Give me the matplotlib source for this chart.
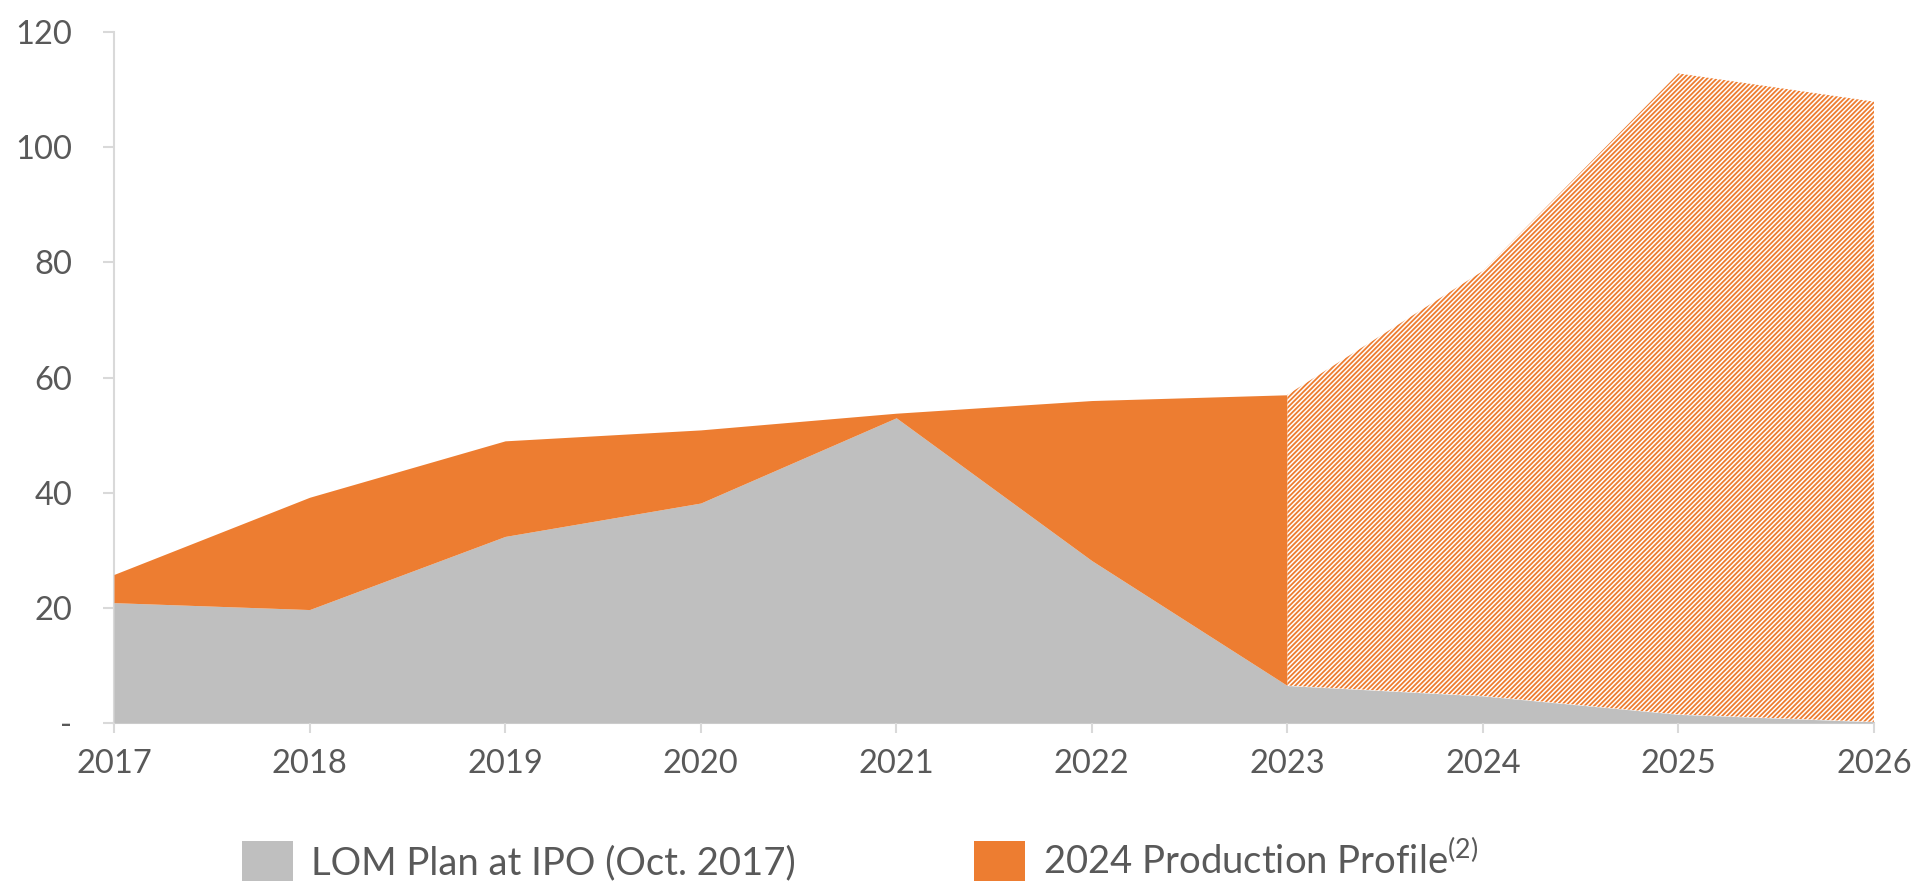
import matplotlib
matplotlib.use("Agg")
import matplotlib.pyplot as plt
from matplotlib.patches import Patch

plt.rcParams['font.family'] = ['Lato', 'DejaVu Sans']
plt.rcParams['mathtext.fontset'] = 'custom'
plt.rcParams['mathtext.rm'] = 'Lato'
plt.rcParams['hatch.linewidth'] = 1.3

years = [2017, 2018, 2019, 2020, 2021, 2022, 2023, 2024, 2025, 2026]
lom_plan = [20.9, 19.7, 32.4, 38.2, 53.0, 28.2, 6.5, 4.7, 1.5, 0.2]
profile_2024 = [25.8, 39.2, 49.0, 50.9, 53.8, 56.0, 57.0, 78.5, 112.8, 107.9]
yticks = [0, 20, 40, 60, 80, 100, 120]
ytick_labels = ['-', '20', '40', '60', '80', '100', '120']

gray = '#BFBFBF'
orange = '#ED7D31'
axis_col = '#D9D9D9'
text_col = '#595959'

fig = plt.figure(figsize=(19.16, 8.82), dpi=100)
ax = fig.add_axes([114/1916, 1-723/882, (1874-114)/1916, (723-32)/882])

# gray LOM plan area
ax.fill_between(years, 0, lom_plan, color=gray, linewidth=0)
# solid orange up to 2023
ax.fill_between(years[:7], lom_plan[:7], profile_2024[:7], color=orange, linewidth=0)
# hatched forecast from 2023
ax.fill_between(years[6:], lom_plan[6:], profile_2024[6:], facecolor='white',
                edgecolor=orange, hatch='///////', linewidth=0)

ax.set_xlim(2017, 2026)
ax.set_ylim(0, 120)
ax.set_xticks(years)
ax.set_xticklabels([str(y) for y in years])
ax.set_yticks(yticks)
ax.set_yticklabels(ytick_labels)

for s in ['top', 'right']:
    ax.spines[s].set_visible(False)
for s in ['left', 'bottom']:
    ax.spines[s].set_color(axis_col)
    ax.spines[s].set_linewidth(1.5)
    ax.spines[s].set_zorder(0.5)

ax.tick_params(axis='y', length=8, width=1.5, color=axis_col, labelsize=23.5,
               labelcolor=text_col, pad=22)
ax.tick_params(axis='x', length=7, width=1.5, color=axis_col, labelsize=23.5,
               labelcolor=text_col, pad=12)

leg_kw = dict(loc='center left', frameon=False, fontsize=27.5, borderpad=0,
              borderaxespad=0, handlelength=1.33, handleheight=1.25,
              handletextpad=0.47, labelcolor=text_col)
fig.legend(handles=[Patch(facecolor=gray, label='LOM Plan at IPO (Oct. 2017)')],
           bbox_to_anchor=(242/1916, 1-861/882), **leg_kw)
fig.legend(handles=[Patch(facecolor=orange, label='2024 Production Profile$^{\\mathrm{(2)}}$')],
           bbox_to_anchor=(974/1916, 1-861/882), **leg_kw)

fig.savefig('out.png', dpi=100)
